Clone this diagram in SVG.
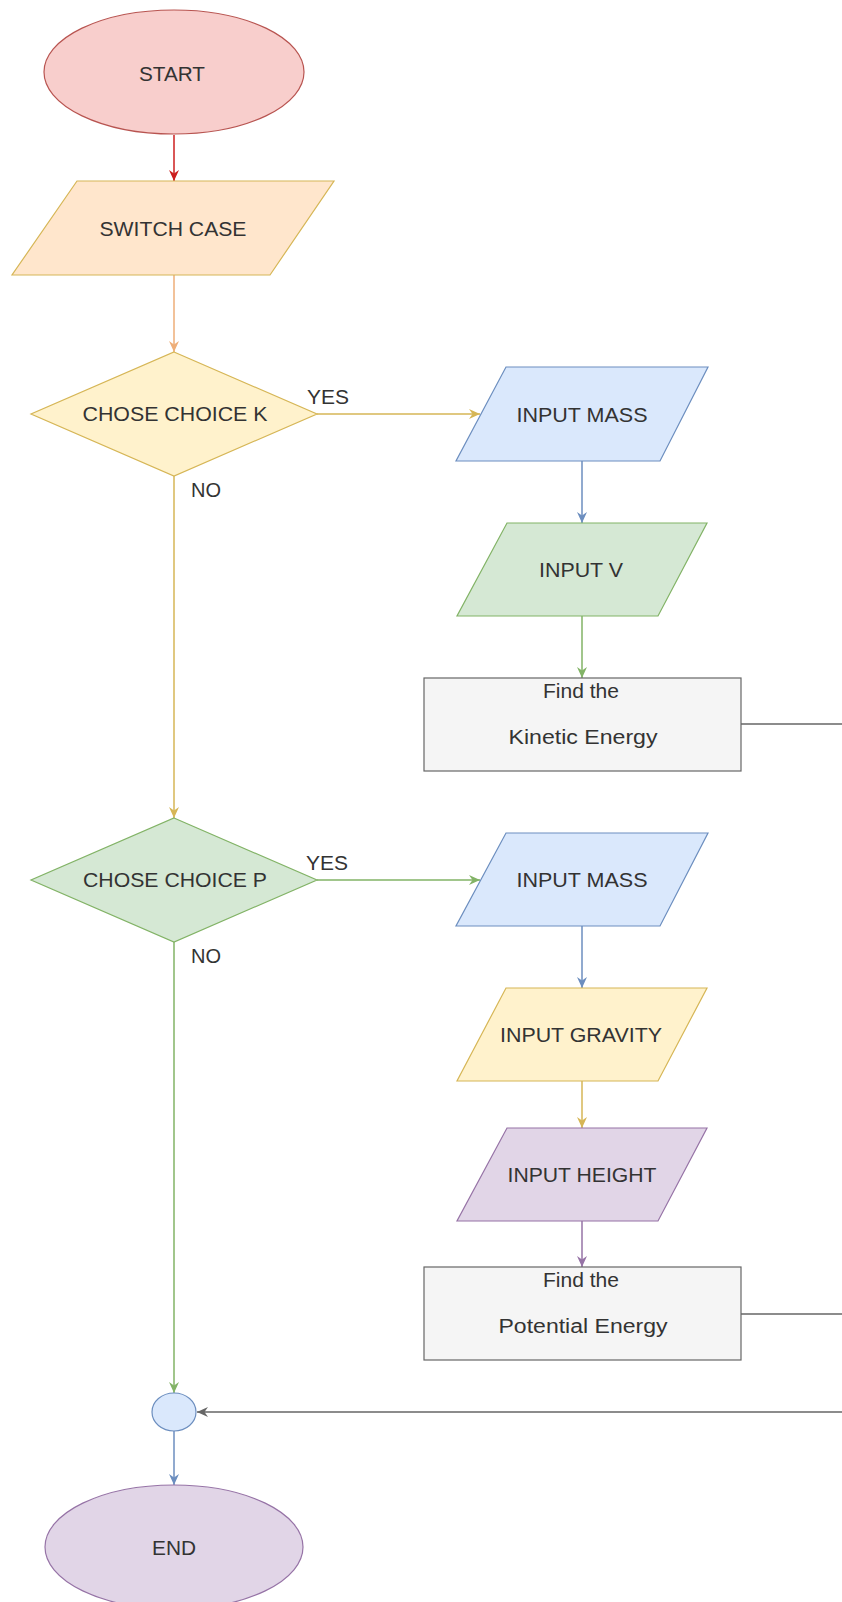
<svg xmlns="http://www.w3.org/2000/svg" width="842" height="1602" viewBox="0 0 842 1602">
<style>
text{font-family:"Liberation Sans",Arial,sans-serif;font-size:20px;fill:#333333}
.c{text-anchor:middle}
.e{fill:none;stroke-width:1.5}
</style>
<defs>
<marker id="mRed" markerUnits="userSpaceOnUse" markerWidth="13" markerHeight="11" refX="11" refY="5" orient="auto"><path d="M0,0 L11,5 L0,10 L3.5,5 z" fill="#cc1f1f"/></marker>
<marker id="mOrange" markerUnits="userSpaceOnUse" markerWidth="13" markerHeight="11" refX="11" refY="5" orient="auto"><path d="M0,0 L11,5 L0,10 L3.5,5 z" fill="#eeae78"/></marker>
<marker id="mYellow" markerUnits="userSpaceOnUse" markerWidth="13" markerHeight="11" refX="11" refY="5" orient="auto"><path d="M0,0 L11,5 L0,10 L3.5,5 z" fill="#d6b656"/></marker>
<marker id="mBlue" markerUnits="userSpaceOnUse" markerWidth="13" markerHeight="11" refX="11" refY="5" orient="auto"><path d="M0,0 L11,5 L0,10 L3.5,5 z" fill="#6c8ebf"/></marker>
<marker id="mGreen" markerUnits="userSpaceOnUse" markerWidth="13" markerHeight="11" refX="11" refY="5" orient="auto"><path d="M0,0 L11,5 L0,10 L3.5,5 z" fill="#82b366"/></marker>
<marker id="mPurple" markerUnits="userSpaceOnUse" markerWidth="13" markerHeight="11" refX="11" refY="5" orient="auto"><path d="M0,0 L11,5 L0,10 L3.5,5 z" fill="#9673a6"/></marker>
<marker id="mGrey" markerUnits="userSpaceOnUse" markerWidth="13" markerHeight="11" refX="11" refY="5" orient="auto"><path d="M0,0 L11,5 L0,10 L3.5,5 z" fill="#666666"/></marker>
</defs>
<rect width="842" height="1602" fill="#ffffff"/>

<g id="connectors">
<line class="e" x1="174" y1="135" x2="174" y2="181" stroke="#cc1f1f" marker-end="url(#mRed)"/>
<line class="e" x1="174" y1="275" x2="174" y2="352" stroke="#eeae78" marker-end="url(#mOrange)"/>
<line class="e" x1="317" y1="414" x2="480" y2="414" stroke="#d6b656" marker-end="url(#mYellow)"/>
<line class="e" x1="582" y1="461" x2="582" y2="523" stroke="#6c8ebf" marker-end="url(#mBlue)"/>
<line class="e" x1="582" y1="616" x2="582" y2="678" stroke="#82b366" marker-end="url(#mGreen)"/>
<line class="e" x1="741" y1="724" x2="842" y2="724" stroke="#666666"/>
<line class="e" x1="174" y1="476" x2="174" y2="818" stroke="#d6b656" marker-end="url(#mYellow)"/>
<line class="e" x1="317" y1="880" x2="480" y2="880" stroke="#82b366" marker-end="url(#mGreen)"/>
<line class="e" x1="582" y1="926" x2="582" y2="988" stroke="#6c8ebf" marker-end="url(#mBlue)"/>
<line class="e" x1="582" y1="1081" x2="582" y2="1128" stroke="#d6b656" marker-end="url(#mYellow)"/>
<line class="e" x1="582" y1="1221" x2="582" y2="1267" stroke="#9673a6" marker-end="url(#mPurple)"/>
<line class="e" x1="741" y1="1314" x2="842" y2="1314" stroke="#666666"/>
<line class="e" x1="174" y1="942" x2="174" y2="1393" stroke="#82b366" marker-end="url(#mGreen)"/>
<line class="e" x1="842" y1="1412" x2="197" y2="1412" stroke="#666666" marker-end="url(#mGrey)"/>
<line class="e" x1="174" y1="1431" x2="174" y2="1485" stroke="#6c8ebf" marker-end="url(#mBlue)"/>
<text x="307" y="404" textLength="42" lengthAdjust="spacingAndGlyphs">YES</text>
<text x="191" y="497" textLength="30" lengthAdjust="spacingAndGlyphs">NO</text>
<text x="306" y="870" textLength="42" lengthAdjust="spacingAndGlyphs">YES</text>
<text x="191" y="963" textLength="30" lengthAdjust="spacingAndGlyphs">NO</text>
</g>

<g id="start">
<ellipse cx="174" cy="72" rx="130" ry="62" fill="#f8cecc" stroke="#b85450" stroke-width="1.2"/>
<text class="c" x="172" y="81" textLength="66" lengthAdjust="spacingAndGlyphs">START</text>
</g>
<g id="switch">
<polygon points="77,181 334,181 270,275 12,275" fill="#ffe6cc" stroke="#d6b656" stroke-width="1.2"/>
<text class="c" x="173" y="236" textLength="147" lengthAdjust="spacingAndGlyphs">SWITCH CASE</text>
</g>
<g id="choiceK">
<polygon points="174,352 317,414 174,476 31,414" fill="#fff2cc" stroke="#d6b656" stroke-width="1.2"/>
<text class="c" x="175" y="421" textLength="185" lengthAdjust="spacingAndGlyphs">CHOSE CHOICE K</text>
</g>
<g id="massK">
<polygon points="506,367 708,367 660,461 456,461" fill="#dae8fc" stroke="#6c8ebf" stroke-width="1.2"/>
<text class="c" x="582" y="422" textLength="131" lengthAdjust="spacingAndGlyphs">INPUT MASS</text>
</g>
<g id="inputV">
<polygon points="507,523 707,523 658,616 457,616" fill="#d5e8d4" stroke="#82b366" stroke-width="1.2"/>
<text class="c" x="581" y="577" textLength="84" lengthAdjust="spacingAndGlyphs">INPUT V</text>
</g>
<g id="kinetic">
<rect x="424" y="678" width="317" height="93" fill="#f5f5f5" stroke="#666666" stroke-width="1.2"/>
<text class="c" x="581" y="698" textLength="76" lengthAdjust="spacingAndGlyphs">Find the</text>
<text class="c" x="583" y="744" textLength="149" lengthAdjust="spacingAndGlyphs">Kinetic Energy</text>
</g>
<g id="choiceP">
<polygon points="174,818 317,880 174,942 31,880" fill="#d5e8d4" stroke="#82b366" stroke-width="1.2"/>
<text class="c" x="175" y="887" textLength="184" lengthAdjust="spacingAndGlyphs">CHOSE CHOICE P</text>
</g>
<g id="massP">
<polygon points="506,833 708,833 660,926 456,926" fill="#dae8fc" stroke="#6c8ebf" stroke-width="1.2"/>
<text class="c" x="582" y="887" textLength="131" lengthAdjust="spacingAndGlyphs">INPUT MASS</text>
</g>
<g id="gravity">
<polygon points="506,988 707,988 658,1081 457,1081" fill="#fff2cc" stroke="#d6b656" stroke-width="1.2"/>
<text class="c" x="581" y="1042" textLength="162" lengthAdjust="spacingAndGlyphs">INPUT GRAVITY</text>
</g>
<g id="height">
<polygon points="507,1128 707,1128 658,1221 457,1221" fill="#e1d5e7" stroke="#9673a6" stroke-width="1.2"/>
<text class="c" x="582" y="1182" textLength="149" lengthAdjust="spacingAndGlyphs">INPUT HEIGHT</text>
</g>
<g id="potential">
<rect x="424" y="1267" width="317" height="93" fill="#f5f5f5" stroke="#666666" stroke-width="1.2"/>
<text class="c" x="581" y="1287" textLength="76" lengthAdjust="spacingAndGlyphs">Find the</text>
<text class="c" x="583" y="1333" textLength="169" lengthAdjust="spacingAndGlyphs">Potential Energy</text>
</g>
<g id="merge">
<ellipse cx="174" cy="1412" rx="22" ry="19" fill="#dae8fc" stroke="#6c8ebf" stroke-width="1.2"/>
</g>
<g id="end">
<ellipse cx="174" cy="1547" rx="129" ry="62" fill="#e1d5e7" stroke="#9673a6" stroke-width="1.2"/>
<text class="c" x="174" y="1555" textLength="44" lengthAdjust="spacingAndGlyphs">END</text>
</g>
</svg>
